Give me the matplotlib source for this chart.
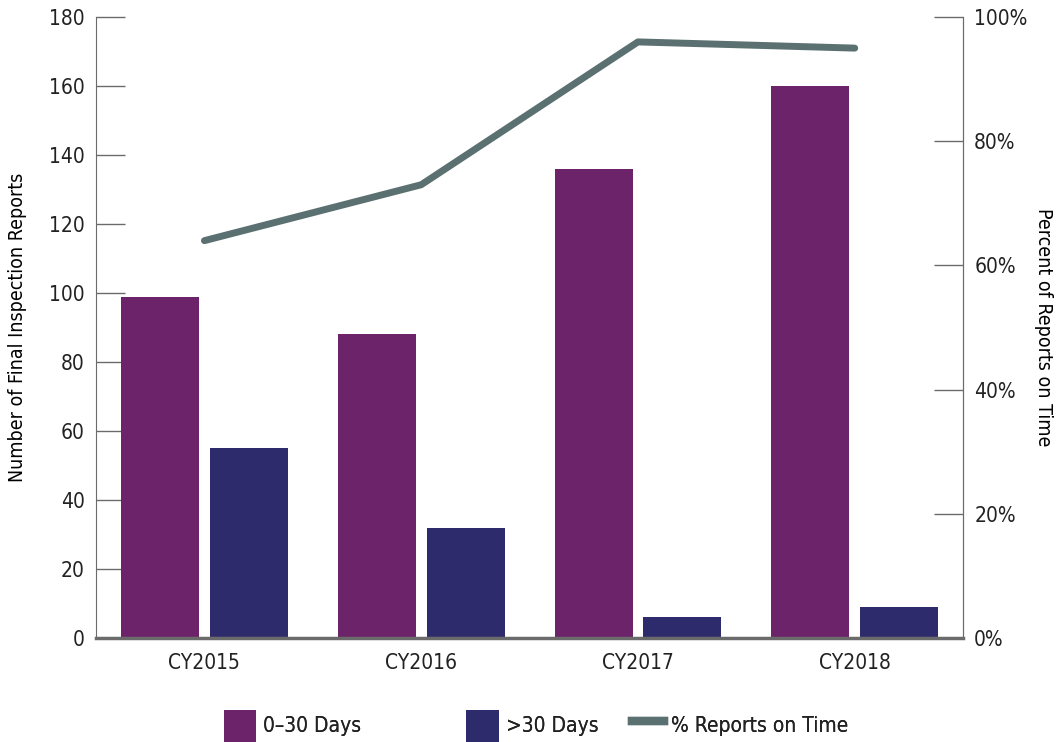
import numpy as np
import matplotlib
matplotlib.use("Agg")
from matplotlib import pyplot as plt
from matplotlib.patches import Patch
from matplotlib.lines import Line2D
from matplotlib.ticker import FuncFormatter

years = ["CY2015", "CY2016", "CY2017", "CY2018"]
on_time = [99, 88, 136, 160]       # 0-30 days
late = [55, 32, 6, 9]              # >30 days
pct_on_time = [64, 73, 96, 95]     # % reports on time

purple = "#6d2369"
navy = "#2d2b6b"
slate = "#5b7071"
grey = "#6b6b6b"

plt.rcParams['font.family'] = ['DejaVu Sans']
plt.rcParams['font.stretch'] = 'condensed'
plt.rcParams['text.color'] = '#222222'
fs = 15

fig = plt.figure(figsize=(10.6, 7.42), dpi=100)
ax = fig.add_axes([0.0906, 0.140, 0.818, 0.837])

x = np.arange(len(years))
w = 0.36
ax.bar(x - 0.205, on_time, w, color=purple, zorder=2)
ax.bar(x + 0.205, late, w, color=navy, zorder=2)

ax.set_xlim(-0.5, 3.5)
ax.set_ylim(0, 180)
ax.set_yticks(range(0, 181, 20))
ax.set_xticks(x)
ax.set_xticklabels(years)
ax.tick_params(axis='y', direction='in', length=21, width=1, color=grey, labelsize=fs, pad=8,
               labelcolor='#222222')
ax.tick_params(axis='x', length=0, labelsize=fs, pad=11, labelcolor='#222222')
ax.set_ylabel("Number of Final Inspection Reports", fontsize=fs - 1, ha='center', va='center')
ax.yaxis.set_label_coords(-0.09, 0.5)

ax.spines['top'].set_visible(False)
ax.spines['left'].set_color(grey)
ax.spines['right'].set_color(grey)
ax.spines['bottom'].set_color(grey)
ax.spines['bottom'].set_linewidth(2.5)

ax2 = ax.twinx()
ax2.plot(x, pct_on_time, color=slate, lw=5, solid_capstyle='round', zorder=3)
ax2.set_ylim(0, 100)
ax2.set_yticks(range(0, 101, 20))
ax2.yaxis.set_major_formatter(FuncFormatter(lambda v, p: f"{int(v)}%"))
ax2.tick_params(axis='y', direction='in', length=21, width=1, color=grey, labelsize=fs, pad=8,
                labelcolor='#222222')
ax2.set_ylabel("Percent of Reports on Time", fontsize=fs - 1, rotation=-90, ha='center', va='center')
ax2.yaxis.set_label_coords(1.093, 0.5)
ax2.spines['top'].set_visible(False)
ax2.spines['right'].set_color(grey)
ax2.spines['left'].set_visible(False)
ax2.spines['bottom'].set_visible(False)

# legend entries placed one by one to match the uneven spacing
handles = [Patch(facecolor=purple, edgecolor='none'), Patch(facecolor=navy, edgecolor='none'),
           Line2D([], [], color=slate, lw=6)]
labels = ["0–30 Days", ">30 Days", "% Reports on Time"]
lx = [0.211, 0.44, 0.596]
for h, lab, xx in zip(handles, labels, lx):
    leg = fig.legend([h], [lab], loc='center left', bbox_to_anchor=(xx, 0.022),
                     frameon=False, fontsize=fs, handlelength=1.55, handleheight=2.0,
                     handletextpad=0.35, borderpad=0, borderaxespad=0)
    fig.add_artist(leg)

fig.savefig("out.png", dpi=100)
